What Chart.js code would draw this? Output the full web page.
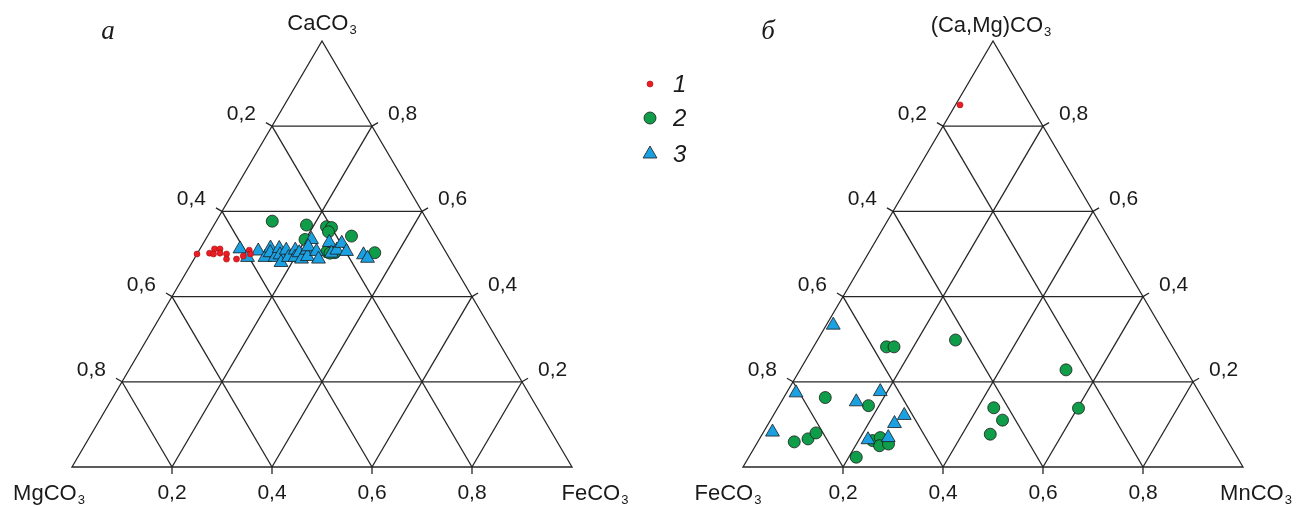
<!DOCTYPE html>
<html><head><meta charset="utf-8">
<script src="https://cdn.jsdelivr.net/npm/chart.js@4.4.1/dist/chart.umd.min.js"></script>
<style>html,body{margin:0;padding:0;background:#fff;} #wrap{width:1305px;height:507px;position:relative;}</style>
</head><body><div id="wrap"><canvas id="c"></canvas></div>
<script>
// ---- DATA ----
const tickValues = [0.2, 0.4, 0.6, 0.8];
const tickLabels = ['0,2', '0,4', '0,6', '0,8'];
const seriesNames = ['1', '2', '3'];
const panelLetters = ['а', 'б'];
// vertex names [top, bottom-left, bottom-right], each [text, subscript]
const leftVertices = [['CaCO', '3'], ['MgCO', '3'], ['FeCO', '3']];
const rightVertices = [['(Ca,Mg)CO', '3'], ['FeCO', '3'], ['MnCO', '3']];

// left diagram points: [FeCO3 fraction, CaCO3 fraction]
const leftSeries1 = [[0.000,0.500],[0.024,0.502],[0.029,0.512],[0.040,0.512],[0.033,0.500],[0.045,0.502],
  [0.059,0.500],[0.065,0.488],[0.085,0.488],[0.095,0.495],[0.100,0.509],[0.107,0.500]];
const leftSeries2 = [[0.112,0.577],[0.185,0.568],[0.227,0.564],[0.238,0.562],[0.237,0.552],[0.288,0.542],
  [0.199,0.534],[0.354,0.503],[0.257,0.505],[0.274,0.503],[0.265,0.502]];
const leftSeries3 = [[0.080,0.512],[0.105,0.492],[0.119,0.507],[0.140,0.492],[0.140,0.514],[0.145,0.503],
  [0.160,0.492],[0.158,0.513],[0.167,0.498],[0.178,0.480],[0.174,0.509],[0.187,0.492],[0.192,0.509],
  [0.200,0.492],[0.203,0.503],[0.215,0.488],[0.215,0.509],[0.224,0.494],[0.212,0.534],[0.214,0.517],
  [0.236,0.506],[0.249,0.488],[0.251,0.527],[0.268,0.502],[0.275,0.509],[0.277,0.525],[0.296,0.506],
  [0.334,0.498],[0.346,0.490]];
// right diagram points: [MnCO3 fraction, (Ca,Mg)CO3 fraction]
const rightSeries1 = [[0.009,0.850]];
const rightSeries2 = [[0.146,0.282],[0.161,0.282],[0.083,0.163],[0.179,0.144],[0.073,0.059],[0.097,0.066],
  [0.106,0.080],[0.215,0.023],[0.228,0.062],[0.240,0.069],[0.248,0.050],[0.264,0.054],[0.276,0.298],
  [0.532,0.228],[0.432,0.139],[0.464,0.110],[0.456,0.077],[0.602,0.138]];
const rightSeries3 = [[0.014,0.333],[0.019,0.174],[0.186,0.177],[0.150,0.153],[0.262,0.121],[0.252,0.102],
  [0.018,0.082],[0.218,0.064],[0.256,0.069]];

// ---- LAYOUT ----
const RIGHT_OFFSET = 1.342;
const panels = [{off: 0, names: leftVertices, letter: panelLetters[0]},
                {off: RIGHT_OFFSET, names: rightVertices, letter: panelLetters[1]}];
function tern(off, a, c) { return {x: off + a + c / 2, y: c}; }
function pts(off, arr) { return arr.map(p => tern(off, p[0], p[1])); }

const FONT = '"Liberation Sans", Arial, sans-serif';
const styles = [
  {bg: '#ed1c24', bd: '#a01010', r: 3, ps: 'circle', bw: 0.6},
  {bg: '#0f9d4a', bd: '#1a1a1a', r: 6, ps: 'circle', bw: 0.8},
  {bg: '#1ba1e2', bd: '#1a1a1a', r: 8, ps: 'triangle', bw: 0.8}
];
const seriesData = [[leftSeries1, rightSeries1], [leftSeries2, rightSeries2], [leftSeries3, rightSeries3]];
const orders = [1, 3, 2];
const datasets = [];
seriesData.forEach((pair, i) => {
  datasets.push({
    label: seriesNames[i],
    data: pts(0, pair[0]).concat(pts(RIGHT_OFFSET, pair[1])),
    backgroundColor: styles[i].bg, borderColor: styles[i].bd, borderWidth: styles[i].bw,
    pointRadius: styles[i].r, pointHoverRadius: styles[i].r, pointStyle: styles[i].ps, order: orders[i]
  });
});

function drawFormula(ctx, parts, cx, baseline, size) {
  ctx.font = size + 'px ' + FONT;
  const w1 = ctx.measureText(parts[0]).width;
  ctx.font = Math.round(size * 0.6) + 'px ' + FONT;
  const w2 = ctx.measureText(parts[1]).width;
  const x0 = cx - (w1 + w2 + 1) / 2;
  ctx.textAlign = 'left'; ctx.textBaseline = 'alphabetic';
  ctx.font = size + 'px ' + FONT;
  ctx.fillText(parts[0], x0, baseline);
  ctx.font = Math.round(size * 0.6) + 'px ' + FONT;
  ctx.fillText(parts[1], x0 + w1 + 1, baseline + 4);
}

const ternaryPlugin = {
  id: 'ternary',
  beforeDatasetsDraw(chart) {
    const ctx = chart.ctx, xs = chart.scales.x, ys = chart.scales.y;
    const P = (o, a, c) => { const t = tern(o, a, c); return [xs.getPixelForValue(t.x), ys.getPixelForValue(t.y)]; };
    ctx.save();
    ctx.strokeStyle = '#262626'; ctx.lineWidth = 1.3; ctx.lineCap = 'butt';
    const seg = (p, q) => { ctx.beginPath(); ctx.moveTo(p[0], p[1]); ctx.lineTo(q[0], q[1]); ctx.stroke(); };
    panels.forEach(pn => {
      const o = pn.off;
      const A = P(o, 0, 1), L = P(o, 0, 0), R = P(o, 1, 0);
      ctx.beginPath(); ctx.moveTo(A[0], A[1]); ctx.lineTo(L[0], L[1]); ctx.lineTo(R[0], R[1]); ctx.closePath(); ctx.stroke();
      const le = [A[0] - L[0], A[1] - L[1]], len = Math.hypot(le[0], le[1]);
      const nL = [le[1] / len, -le[0] / len];
      const nR = [-nL[0], nL[1]];
      const stub = 7;
      tickValues.forEach(t => {
        seg(P(o, 0, t), P(o, 1 - t, t));
        seg(P(o, t, 0), P(o, t, 1 - t));
        seg(P(o, 1 - t, 0), P(o, 0, 1 - t));
        const pl = P(o, 0, t), pr = P(o, 1 - t, t), pb = P(o, t, 0);
        seg(pl, [pl[0] + nL[0] * stub, pl[1] + nL[1] * stub]);
        seg(pr, [pr[0] + nR[0] * stub, pr[1] + nR[1] * stub]);
        seg(pb, [pb[0], pb[1] + stub]);
      });
    });
    ctx.restore();
  },
  afterDatasetsDraw(chart) {
    const ctx = chart.ctx, xs = chart.scales.x, ys = chart.scales.y;
    const P = (o, a, c) => { const t = tern(o, a, c); return [xs.getPixelForValue(t.x), ys.getPixelForValue(t.y)]; };
    ctx.save();
    ctx.fillStyle = '#1a1a1a';
    panels.forEach((pn, k) => {
      const o = pn.off;
      ctx.font = '21px ' + FONT; ctx.textBaseline = 'alphabetic';
      tickValues.forEach((t, i) => {
        const pl = P(o, 0, t), pr = P(o, 1 - t, t), pb = P(o, t, 0);
        ctx.textAlign = 'right';
        ctx.fillText(tickLabels[tickValues.length - 1 - i], pl[0] - 16, pl[1] - 6);
        ctx.textAlign = 'left';
        ctx.fillText(tickLabels[i], pr[0] + 16, pr[1] - 6);
        ctx.textAlign = 'center';
        ctx.fillText(tickLabels[i], pb[0], pb[1] + 32);
      });
      const A = P(o, 0, 1), L = P(o, 0, 0), R = P(o, 1, 0);
      drawFormula(ctx, pn.names[0], A[0] + (k ? -2 : 0), A[1] - (k ? 9 : 11), 22);
      drawFormula(ctx, pn.names[1], L[0] + (k ? -15 : -23), L[1] + 33, 22);
      drawFormula(ctx, pn.names[2], R[0] + (k ? 13 : 23), R[1] + 33, 22);
      ctx.font = 'italic 27px "Liberation Serif", "Times New Roman", serif';
      ctx.textAlign = 'center';
      ctx.fillText(pn.letter, A[0] + (k ? -225 : -214), A[1] - 2);
    });
    // legend
    const lx = 650, ly = [84, 118, 154];
    chart.data.datasets.forEach((ds, i) => {
      ctx.save();
      ctx.fillStyle = ds.backgroundColor; ctx.strokeStyle = ds.borderColor; ctx.lineWidth = ds.borderWidth;
      Chart.helpers.drawPoint(ctx, {pointStyle: ds.pointStyle, radius: ds.pointRadius, rotation: 0, borderWidth: ds.borderWidth}, lx, ly[i]);
      ctx.restore();
      ctx.fillStyle = '#1a1a1a';
      ctx.font = 'italic 24px ' + FONT; ctx.textAlign = 'left'; ctx.textBaseline = 'alphabetic';
      ctx.fillText(ds.label, 673, ly[i] + 8);
    });
    ctx.restore();
  }
};

new Chart(document.getElementById('c'), {
  type: 'scatter',
  data: {datasets},
  options: {
    responsive: true, maintainAspectRatio: false, animation: false,
    layout: {padding: 0, autoPadding: false},
    events: [],
    scales: {
      x: {type: 'linear', min: -0.144, max: 2.466, display: false},
      y: {type: 'linear', min: -0.0939, max: 1.0962, display: false}
    },
    plugins: {legend: {display: false}, tooltip: {enabled: false}}
  },
  plugins: [ternaryPlugin]
});
</script></body></html>
